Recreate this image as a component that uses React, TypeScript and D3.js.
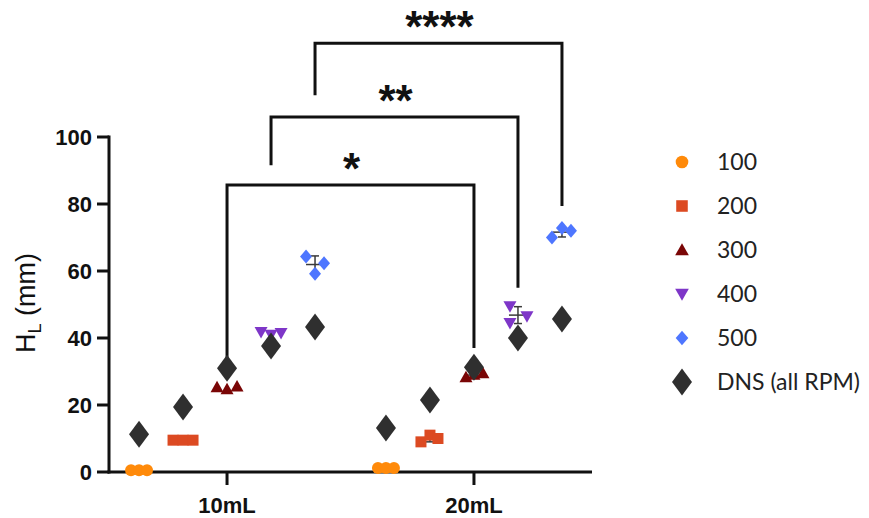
import React from "react";
import * as d3 from "d3";

// Fill volumes on the x axis and rotor speeds (RPM) within each volume
const volumes = ["10mL", "20mL"];
const speeds = ["100", "200", "300", "400", "500"];

// Measured liquid height H_L (mm), three replicates per speed, per volume
const h10mL = [
  [0.5, 0.5, 0.5],
  [9.5, 9.5, 9.5],
  [25.3, 24.7, 25.5],
  [41.8, 41.0, 41.5],
  [64.3, 62.3, 59.2],
];
const h20mL = [
  [1.2, 1.2, 1.2],
  [9.0, 11.0, 10.0],
  [28.3, 29.0, 29.5],
  [49.5, 46.5, 44.5],
  [70.0, 72.8, 72.0],
];

// DNS prediction (all RPM), one value per speed
const dns10mL = [11.3, 19.4, 31.0, 37.6, 43.3];
const dns20mL = [13.1, 21.5, 31.3, 40.0, 45.7];

const yTicks = [0, 20, 40, 60, 80, 100];

// Significance brackets between the two volumes at the same speed
const bracketSpeeds = ["300", "400", "500"];
const bracketLevels = [85.7, 106, 128];
const bracketLeftEnds = [31, 91.6, 112.5];
const bracketRightEnds = [37, 55, 79.4];
const bracketLabels = ["*", "**", "****"];

const legendLabels = ["100", "200", "300", "400", "500", "DNS (all RPM)"];

// Horizontal scatter offsets (px) for the replicates, so overlapping points stay visible
const jitter10 = [
  [-8, 0, 8],
  [-10, 0, 10],
  [-10, 0, 10],
  [-10, 0, 10],
  [-9, 9, 0],
];
const jitter20 = [
  [-8, 0, 8],
  [-9, 0, 8],
  [-8, 0, 9],
  [-8, 9, -8],
  [-10, 0, 9],
];

const colors = ["#FF8A0A", "#DC4A22", "#7A0606", "#7E36C8", "#4E76FF"];
const dnsColor = "#2F2F2F";
const ink = "#111";

const W = 869;
const H = 518;

const x = d3.scalePoint<string>().domain(volumes).range([109, 592]).padding(0.478);
const dx = d3.scalePoint<string>().domain(speeds).range([-88, 88]);
const y = d3.scaleLinear().domain([0, 100]).range([472, 137]);

function Marker({ kind, cx, cy, color, scale = 1 }: { kind: number; cx: number; cy: number; color: string; scale?: number }) {
  const s = scale;
  if (kind === 0) return <circle cx={cx} cy={cy} r={6 * s} fill={color} />;
  if (kind === 1) return <rect x={cx - 5.5 * s} y={cy - 5.5 * s} width={11 * s} height={11 * s} fill={color} />;
  if (kind === 2)
    return <path d={`M${cx},${cy - 6.5 * s}L${cx + 6.5 * s},${cy + 5 * s}L${cx - 6.5 * s},${cy + 5 * s}Z`} fill={color} />;
  if (kind === 3)
    return <path d={`M${cx},${cy + 6.5 * s}L${cx + 6.5 * s},${cy - 5 * s}L${cx - 6.5 * s},${cy - 5 * s}Z`} fill={color} />;
  if (kind === 4)
    return <path d={`M${cx},${cy - 7 * s}L${cx + 6 * s},${cy}L${cx},${cy + 7 * s}L${cx - 6 * s},${cy}Z`} fill={color} />;
  return <path d={`M${cx},${cy - 13.5 * s}L${cx + 10 * s},${cy}L${cx},${cy + 13.5 * s}L${cx - 10 * s},${cy}Z`} fill={color} />;
}

function Group({ vol, values, jit, dns }: { vol: string; values: number[][]; jit: number[][]; dns: number[] }) {
  return (
    <g>
      {values.map((reps, i) => {
        const cx = (x(vol) as number) + (dx(speeds[i]) as number);
        const mean = d3.mean(reps) as number;
        const sd = d3.deviation(reps) || 0;
        return (
          <g key={i}>
            {/* mean ± SD sits behind the replicate markers */}
            {sd > 0.5 && (
              <g stroke="#3a3a3a" strokeWidth={1.5} fill="none">
                <line x1={cx} x2={cx} y1={y(mean - sd)} y2={y(mean + sd)} />
                <line x1={cx - 4} x2={cx + 4} y1={y(mean + sd)} y2={y(mean + sd)} />
                <line x1={cx - 4} x2={cx + 4} y1={y(mean - sd)} y2={y(mean - sd)} />
                <line x1={cx - 9} x2={cx + 9} y1={y(mean)} y2={y(mean)} />
              </g>
            )}
            {reps.map((v, j) => (
              <Marker key={j} kind={i} cx={cx + jit[i][j]} cy={y(v)} color={colors[i]} />
            ))}
          </g>
        );
      })}
      {dns.map((v, i) => (
        <Marker key={`d${i}`} kind={5} cx={(x(vol) as number) + (dx(speeds[i]) as number)} cy={y(v)} color={dnsColor} />
      ))}
    </g>
  );
}

export default function App() {
  const axisFont = "'Liberation Sans', Arial, sans-serif";
  return (
    <svg
      width={W}
      height={H}
      viewBox={`0 0 ${W} ${H}`}
      style={{ position: "absolute", left: 0, top: 0, background: "#fff" }}
    >
      <rect width={W} height={H} fill="#fff" />

      {/* significance brackets */}
      <g stroke={ink} strokeWidth={3} fill="none" strokeLinejoin="miter">
        {bracketSpeeds.map((sp, i) => {
          const x1 = (x(volumes[0]) as number) + (dx(sp) as number);
          const x2 = (x(volumes[1]) as number) + (dx(sp) as number);
          return (
            <path
              key={i}
              d={`M${x1},${y(bracketLeftEnds[i])}V${y(bracketLevels[i])}H${x2}V${y(bracketRightEnds[i])}`}
            />
          );
        })}
      </g>
      <g fontFamily={axisFont} fontWeight="bold" fontSize={44} fill={ink} textAnchor="middle">
        {bracketSpeeds.map((sp, i) => {
          const x1 = (x(volumes[0]) as number) + (dx(sp) as number);
          const x2 = (x(volumes[1]) as number) + (dx(sp) as number);
          return (
            <text key={i} x={(x1 + x2) / 2 + 1} y={y(bracketLevels[i]) - 1}>
              {bracketLabels[i]}
            </text>
          );
        })}
      </g>

      {/* axes */}
      <g stroke={ink} strokeWidth={3} fill="none">
        <line x1={109} x2={109} y1={y(100) - 1.5} y2={y(0) + 1.5} />
        <line x1={107.5} x2={592} y1={y(0)} y2={y(0)} />
        {yTicks.map((t) => (
          <line key={t} x1={97} x2={109} y1={y(t)} y2={y(t)} />
        ))}
        {volumes.map((v) => (
          <line key={v} x1={x(v)} x2={x(v)} y1={y(0)} y2={y(0) + 13} />
        ))}
      </g>
      <g fontFamily={axisFont} fontWeight="bold" fontSize={22} fill={ink}>
        {yTicks.map((t) => (
          <text key={t} x={92} y={y(t)} dy="0.36em" textAnchor="end">
            {t}
          </text>
        ))}
        {volumes.map((v) => (
          <text key={v} x={x(v)} y={513} textAnchor="middle">
            {v}
          </text>
        ))}
      </g>
      <text
        transform={`translate(35,303) rotate(-90)`}
        fontFamily={axisFont}
        fontSize={27}
        fill={ink}
        textAnchor="middle"
      >
        H
        <tspan fontSize={18} dy={6}>
          L
        </tspan>
        <tspan dy={-6}> (mm)</tspan>
      </text>

      {/* data */}
      <Group vol={volumes[0]} values={h10mL} jit={jitter10} dns={dns10mL} />
      <Group vol={volumes[1]} values={h20mL} jit={jitter20} dns={dns20mL} />

      {/* legend */}
      <g>
        {legendLabels.map((lab, i) => {
          const cy = 162 + i * 44;
          return (
            <g key={lab}>
              <Marker kind={i} cx={682} cy={cy} color={i < 5 ? colors[i] : dnsColor} scale={i < 5 ? 1.05 : 1} />
              <text x={717} y={cy} dy="0.35em" fontFamily="Lato, 'Open Sans', sans-serif" fontSize={23} fill="#222">
                {lab}
              </text>
            </g>
          );
        })}
      </g>
    </svg>
  );
}
